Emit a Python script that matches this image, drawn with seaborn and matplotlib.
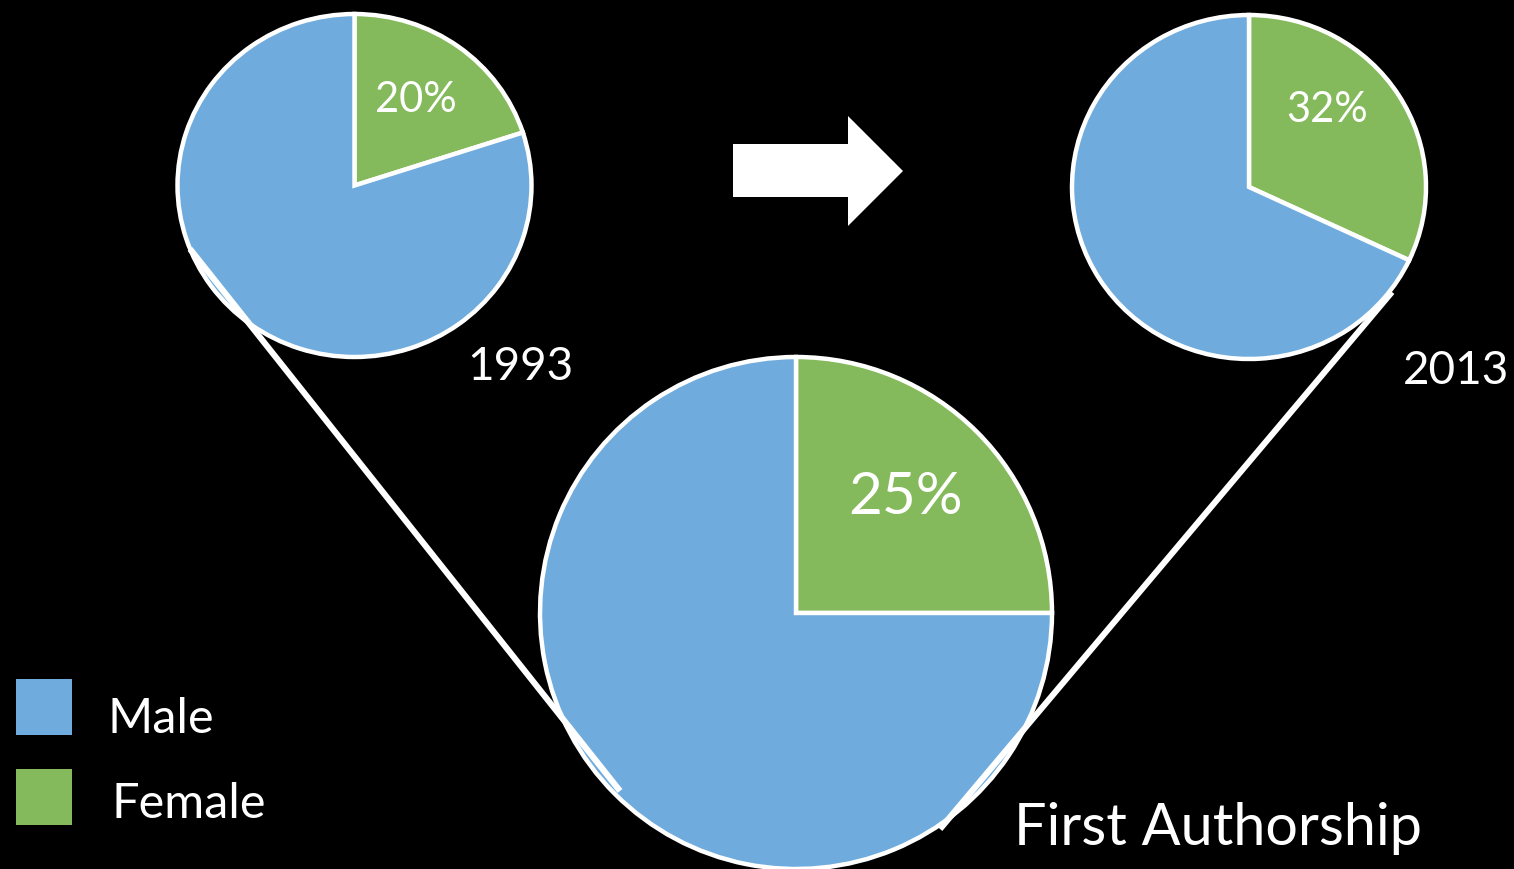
import matplotlib
matplotlib.use("Agg")
import matplotlib.pyplot as plt
import seaborn as sns
from matplotlib.patches import Rectangle, Polygon

# Share of first authorship by gender
labels = ["Female", "Male"]
years = ["1993", "2013"]
female_1993 = [20, 80]
female_2013 = [32, 68]
female_overall = [25, 75]
pct_text = ["20%", "32%", "25%"]
title_text = "First Authorship"

W, H = 1514, 870
PAD = 1.03
sns.set_theme(style="dark", rc={"figure.facecolor": "black", "axes.facecolor": "black"})
plt.rcParams["font.family"] = ["Lato", "DejaVu Sans"]
palette = sns.color_palette(["#84BA5B", "#6FACDD"])  # female, male

fig = plt.figure(figsize=(W / 100, H / 100), dpi=100)
fig.patch.set_facecolor("black")


def pie_axes(cx, cy, rx, ry):
    """Axes whose unit circle maps onto an ellipse centred at pixel (cx, cy)."""
    rx, ry = rx * PAD, ry * PAD
    ax = fig.add_axes([(cx - rx) / W, 1 - (cy + ry) / H, 2 * rx / W, 2 * ry / H])
    ax.set_facecolor("none")
    return ax


def draw_pie(ax, values):
    ax.pie(values, colors=palette, startangle=90, counterclock=False, radius=1,
           wedgeprops=dict(edgecolor="white", linewidth=3.2))
    ax.set_aspect("auto")
    ax.set_xlim(-PAD, PAD)
    ax.set_ylim(-PAD, PAD)
    ax.axis("off")


draw_pie(pie_axes(354.5, 186.5, 177, 171.5), female_1993)
draw_pie(pie_axes(1249, 188, 177, 172), female_2013)
draw_pie(pie_axes(796, 614, 256, 256), female_overall)

# overlay in pixel coordinates for connectors, arrow, labels and legend
ov = fig.add_axes([0, 0, 1, 1], zorder=10)
ov.set_facecolor("none")
ov.set_xlim(0, W)
ov.set_ylim(H, 0)
ov.axis("off")

ov.plot([190, 620], [250, 792], color="white", lw=4.4, solid_capstyle="butt")
ov.plot([1392, 940], [293, 830], color="white", lw=4.4, solid_capstyle="butt")

ov.add_patch(Polygon([(733, 145), (848, 145), (848, 117), (903, 172), (848, 227),
                      (848, 198), (733, 198)], closed=True, color="white", lw=0))

txt = dict(color="white", ha="center", va="baseline")
ov.text(416, 112, pct_text[0], fontsize=30, **txt)
ov.text(1327, 122, pct_text[1], fontsize=30, **txt)
ov.text(906, 514, pct_text[2], fontsize=42, **txt)
ov.text(520, 380, years[0], fontsize=33, **txt)
ov.text(1456, 384, years[1], fontsize=33, **txt)
ov.text(1218, 845, title_text, fontsize=41.5, **txt)

# legend keys
ov.add_patch(Rectangle((16, 680), 56, 56, color=palette[1], lw=0))
ov.add_patch(Rectangle((16, 770), 56, 56, color=palette[0], lw=0))
ov.text(107, 733, labels[1], fontsize=35, color="white", ha="left", va="baseline")
ov.text(111, 818, labels[0], fontsize=35, color="white", ha="left", va="baseline")

fig.savefig("out.png", dpi=100, facecolor="black")
